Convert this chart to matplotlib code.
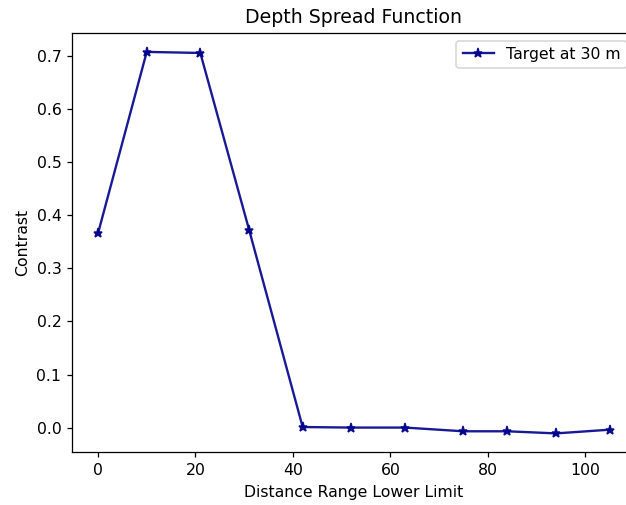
import matplotlib
matplotlib.use('Agg')
import matplotlib.pyplot as plt

distance = [0, 10, 21, 31, 42, 52, 63, 75, 84, 94, 105]
contrast = [0.366, 0.708, 0.706, 0.373, 0.001, 0.0, 0.0, -0.007, -0.007, -0.011, -0.004]

dpi = 113
fig = plt.figure(figsize=(626 / dpi, 505 / dpi), dpi=dpi)
ax = fig.add_axes([0.1157, 0.104, 0.899, 0.831])
ax.plot(distance, contrast, marker='*', color='darkblue', alpha=0.9, label='Target at 30 m')
ax.legend(loc='upper right')
ax.set_title('Depth Spread Function')
ax.set_xlabel('Distance Range Lower Limit')
ax.set_ylabel('Contrast')
fig.savefig('out.png', dpi=dpi)
